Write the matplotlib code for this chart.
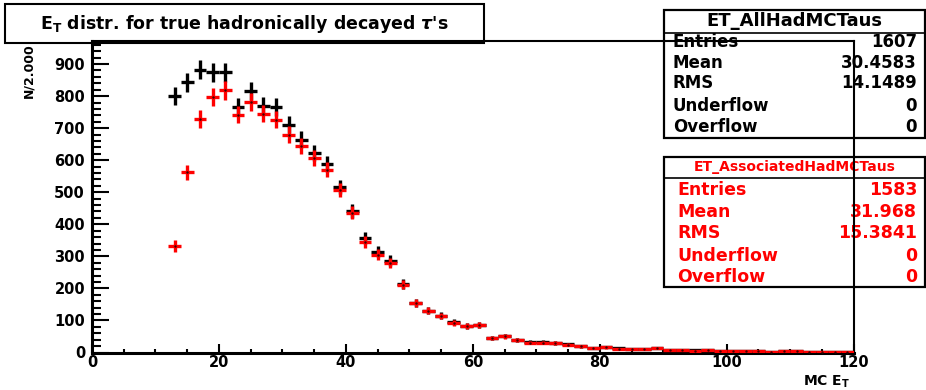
import numpy as np
import matplotlib
matplotlib.use('Agg')
import matplotlib.pyplot as plt
from matplotlib.patches import Rectangle
from matplotlib.lines import Line2D
from matplotlib.ticker import MultipleLocator

# bin centres of the 2 GeV wide E_T bins, and the contents per bin
et_centres = np.arange(13, 121, 2)
all_had = np.array([
    800, 843, 883, 874, 874, 767, 815, 770, 765, 711,
    664, 624, 588, 516, 442, 357, 315, 287, 214, 156,
    131, 115, 94, 83, 86, 46, 51, 39, 32, 32,
    30, 25, 20, 13, 17, 13, 10, 10, 14, 7,
    7, 7, 8, 5, 4, 6, 6, 3, 6, 4,
    2, 2, 2, 2])
assoc_had = np.array([
    333, 562, 729, 797, 818, 742, 782, 745, 727, 680,
    645, 607, 570, 507, 436, 346, 305, 279, 212, 154,
    130, 114, 93, 82, 85, 45, 50, 38, 31, 31,
    29, 24, 19, 13, 16, 12, 10, 10, 13, 7,
    7, 6, 7, 5, 4, 5, 6, 3, 5, 4,
    2, 2, 2, 2])

stat_names = ['Entries', 'Mean', 'RMS', 'Underflow', 'Overflow']
stats_all = ['1607', '30.4583', '14.1489', '0', '0']
stats_assoc = ['1583', '31.968', '15.3841', '0', '0']

W, H, DPI = 926, 390, 100
RED = '#ff0000'

plt.rcParams['font.family'] = 'DejaVu Sans'
plt.rcParams['font.weight'] = 'bold'
plt.rcParams['mathtext.fontset'] = 'dejavusans'

fig = plt.figure(figsize=(W / DPI, H / DPI), dpi=DPI, facecolor='white')


def fx(px):
    return px / W


def fy(py):
    return 1 - py / H


# frame: x 0..120 spans px 92..854, y spans px 352.5..41
ax = fig.add_axes([fx(92), fy(352.5), fx(853.7) - fx(92), fy(41) - fy(352.5)])
ax.set_facecolor('none')
ax.set_xlim(0, 120)
ax.set_ylim(0, 972)

ax.errorbar(et_centres, all_had, xerr=1, yerr=np.sqrt(all_had),
            fmt='.', ms=1.5, color='black', elinewidth=2.4, capsize=0, zorder=3)
ax.errorbar(et_centres, assoc_had, xerr=1, yerr=np.sqrt(assoc_had),
            fmt='.', ms=1.5, color=RED, mfc='#400000', mec='#400000',
            elinewidth=2.4, capsize=0, zorder=4)

ax.xaxis.set_major_locator(MultipleLocator(20))
ax.xaxis.set_minor_locator(MultipleLocator(5))
ax.yaxis.set_major_locator(MultipleLocator(100))
ax.yaxis.set_minor_locator(MultipleLocator(20))
ax.tick_params(axis='x', which='major', direction='in', length=6.5, width=1.5,
               pad=2, labelsize=10.5)
ax.tick_params(axis='x', which='minor', direction='in', length=3, width=1.5)
ax.tick_params(axis='y', which='major', direction='in', length=12.5, width=1.5,
               pad=5, labelsize=10.5)
ax.tick_params(axis='y', which='minor', direction='in', length=6.5, width=1.5)
for side in ['left', 'bottom']:
    ax.spines[side].set_linewidth(2.2)
for side in ['top', 'right']:
    ax.spines[side].set_linewidth(1.5)

fig.text(fx(29), fy(43), 'N/2.000', rotation=90, ha='center', va='top',
         fontsize=9, fontweight='bold')
fig.text(fx(850), fy(385.5), r'MC E$_\mathbf{T}$', ha='right', va='baseline',
         fontsize=10, fontweight='bold')

# title box
fig.add_artist(Rectangle((fx(5), fy(43)), fx(484) - fx(5), fy(4) - fy(43),
                         transform=fig.transFigure, facecolor='white',
                         edgecolor='black', lw=1.5, zorder=-2))
fig.text(fx(244), fy(24), r"E$_\mathbf{T}$ distr. for true hadronically decayed $\tau$'s",
         ha='center', va='center', fontsize=12.5, fontweight='bold', zorder=-1)


def stats_box(top, bottom, header_line, header, header_y, header_size,
              values, row_ys, row_size, color, label_x):
    left, right = 664, 925
    fig.add_artist(Rectangle((fx(left), fy(bottom)), fx(right) - fx(left),
                             fy(top) - fy(bottom), transform=fig.transFigure,
                             facecolor='white', edgecolor='black', lw=1.6, zorder=-2))
    fig.add_artist(Line2D([fx(left), fx(right)], [fy(header_line), fy(header_line)],
                          transform=fig.transFigure, color='black', lw=1.2, zorder=-1))
    fig.text(fx((left + right) / 2), fy(header_y), header, ha='center', va='center',
             fontsize=header_size, color=color, zorder=-1)
    for name, val, yy in zip(stat_names, values, row_ys):
        fig.text(fx(label_x), fy(yy), name, ha='left', va='center',
                 fontsize=row_size, color=color, zorder=-1)
        fig.text(fx(917), fy(yy), val, ha='right', va='center',
                 fontsize=row_size, color=color, zorder=-1)


stats_box(10, 138, 33, 'ET_AllHadMCTaus', 21, 13, stats_all,
          [42, 63, 83, 106, 127], 12, 'black', 673)
stats_box(157, 287, 178, 'ET_AssociatedHadMCTaus', 167, 10, stats_assoc,
          [190, 212, 233, 256, 277], 12.5, RED, 677)

fig.savefig('out.png', dpi=DPI, facecolor='white')
